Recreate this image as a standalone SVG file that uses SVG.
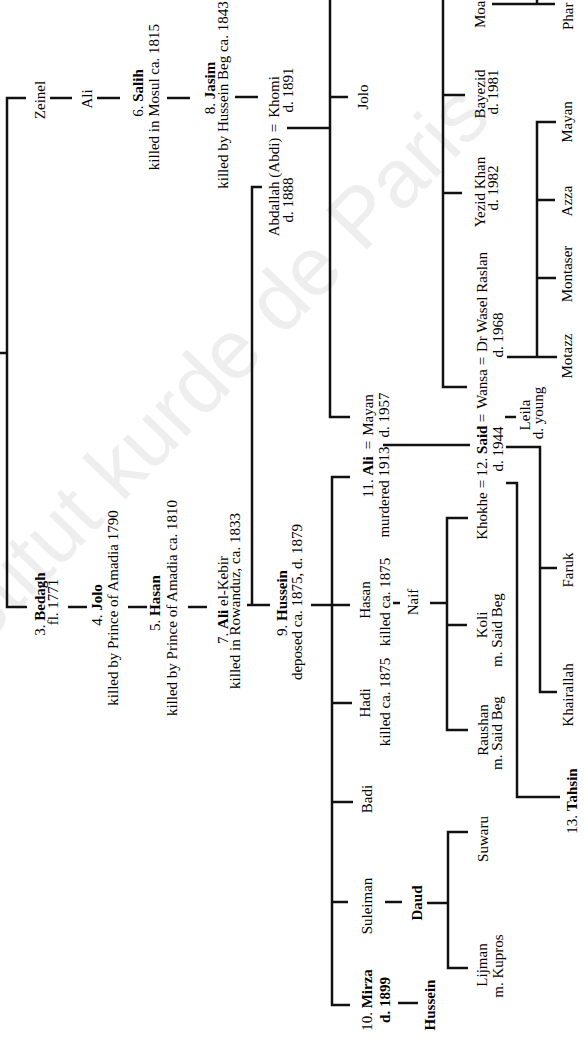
<svg xmlns="http://www.w3.org/2000/svg" width="585" height="1044" viewBox="0 0 585 1044">
<style>
text { font-family: "Liberation Serif", "Times New Roman", serif; font-size: 15px; fill: #000; text-anchor: middle; }
.b { font-weight: bold; }
.st { text-anchor: start; }
.wm { font-family: "Liberation Sans", Arial, sans-serif; font-size: 83px; fill: #eeeeee; text-anchor: start; }
#connectors line, #connectors path { stroke: #111; stroke-width: 2.5; fill: none; }
</style>
<rect width="585" height="1044" fill="#ffffff"/>
<text class="wm" transform="translate(-64,696) rotate(-46)">Institut kurde de Paris</text>

<g id="connectors">
  <path d="M0,353 H7 M26,98 H7 V607 H27"/>
  <line x1="50" y1="98" x2="72" y2="98"/>
  <line x1="97" y1="98" x2="120" y2="98"/>
  <line x1="167" y1="98" x2="190" y2="98"/>
  <line x1="235" y1="97" x2="258" y2="97"/>
  <line x1="68" y1="607" x2="87" y2="607"/>
  <line x1="128" y1="607" x2="147" y2="607"/>
  <line x1="188" y1="607" x2="207" y2="607"/>
  <path d="M247,605 H270 M262,187 H252 V605"/>
  <path d="M287,128 H330 M330,0 V417 H350 M330,97 H348"/>
  <path d="M311,605 H350 M350,477 H332 V1005 H350 M332,703 H352 M332,802 H353 M332,902 H348"/>
  <line x1="383" y1="445" x2="470" y2="445"/>
  <line x1="393" y1="603" x2="400" y2="603"/>
  <path d="M430,603 H447 M468,518 H447 V730 H468 M447,625 H467"/>
  <path d="M506,447 H540 V692 H557 M540,568 H557"/>
  <path d="M506,483 H517 V797 H560"/>
  <line x1="505" y1="417" x2="516" y2="417"/>
  <path d="M443,0 V387 H467 M443,95 H465 M443,193 H462"/>
  <path d="M507,357 H557 M537,357 V122 H556 M537,200 H555 M537,278 H556"/>
  <path d="M492,4 H555 M537,0 V4"/>
  <line x1="398" y1="1003" x2="418" y2="1003"/>
  <line x1="385" y1="902" x2="402" y2="902"/>
  <path d="M427,903 H448 M468,832 H448 V968 H468"/>
</g>

<g id="n-zeinel"><text transform="translate(45,100) rotate(-90)">Zeinel</text></g>
<g id="n-ali1"><text transform="translate(92,99) rotate(-90)">Ali</text></g>
<g id="n-salih">
  <text transform="translate(143,93) rotate(-90)">6. <tspan class="b">Salih</tspan></text>
  <text transform="translate(159,97) rotate(-90)">killed in Mosul ca. 1815</text>
</g>
<g id="n-jasim">
  <text transform="translate(215,88) rotate(-90)">8. <tspan class="b">Jasim</tspan></text>
  <text transform="translate(228,95) rotate(-90)">killed by Hussein Beg ca. 1843</text>
</g>
<g id="n-abdallah">
  <text transform="translate(279,187) rotate(-90)">Abdallah (Abdi)</text>
  <text transform="translate(293,200) rotate(-90)">d. 1888</text>
  <text transform="translate(279,128) rotate(-90)">=</text>
</g>
<g id="n-khomi">
  <text transform="translate(279,97) rotate(-90)">Khomi</text>
  <text transform="translate(293,90) rotate(-90)">d. 1891</text>
</g>
<g id="n-jolo2"><text transform="translate(368,97) rotate(-90)">Jolo</text></g>

<g id="n-bedagh">
  <text transform="translate(45,604) rotate(-90)">3. <tspan class="b">Bedagh</tspan></text>
  <text transform="translate(58,602) rotate(-90)">fl. 1771</text>
</g>
<g id="n-jolo4">
  <text transform="translate(102,605) rotate(-90)">4. <tspan class="b">Jolo</tspan></text>
  <text transform="translate(118,608) rotate(-90)">killed by Prince of Amadia 1790</text>
</g>
<g id="n-hasan5">
  <text transform="translate(160,603) rotate(-90)">5. <tspan class="b">Hasan</tspan></text>
  <text transform="translate(177,608) rotate(-90)">killed by Prince of Amadia ca. 1810</text>
</g>
<g id="n-alikebir">
  <text transform="translate(228,600) rotate(-90)">7. <tspan class="b">Ali</tspan> el-Kebir</text>
  <text transform="translate(240,601) rotate(-90)">killed in Rowanduz, ca. 1833</text>
</g>
<g id="n-hussein9">
  <text transform="translate(287,603) rotate(-90)">9. <tspan class="b">Hussein</tspan></text>
  <text transform="translate(302,602) rotate(-90)">deposed ca. 1875, d. 1879</text>
</g>

<g id="n-ali11">
  <text transform="translate(373,477) rotate(-90)">11. <tspan class="b">Ali</tspan></text>
  <text transform="translate(389,492) rotate(-90)">murdered 1913</text>
  <text transform="translate(373,445) rotate(-90)">=</text>
</g>
<g id="n-mayan">
  <text transform="translate(373,415) rotate(-90)">Mayan</text>
  <text transform="translate(389,415) rotate(-90)">d. 1957</text>
</g>
<g id="n-hasan">
  <text transform="translate(370,600) rotate(-90)">Hasan</text>
  <text transform="translate(390,602) rotate(-90)">killed ca. 1875</text>
</g>
<g id="n-naif"><text transform="translate(418,602) rotate(-90)">Naif</text></g>
<g id="n-hadi">
  <text transform="translate(370,703) rotate(-90)">Hadi</text>
  <text transform="translate(390,702) rotate(-90)">killed ca. 1875</text>
</g>
<g id="n-badi"><text transform="translate(372,799) rotate(-90)">Badi</text></g>
<g id="n-suleiman"><text transform="translate(372,906) rotate(-90)">Suleiman</text></g>
<g id="n-daud"><text class="b" transform="translate(422,903) rotate(-90)">Daud</text></g>
<g id="n-suwaru"><text transform="translate(488,839) rotate(-90)">Suwaru</text></g>
<g id="n-lijman">
  <text transform="translate(487,965) rotate(-90)">Lijman</text>
  <text transform="translate(503,966) rotate(-90)">m. Kupros</text>
</g>
<g id="n-mirza">
  <text transform="translate(372,1000) rotate(-90)">10. <tspan class="b">Mirza</tspan></text>
  <text class="b" transform="translate(390,1000) rotate(-90)">d. 1899</text>
</g>
<g id="n-hussein"><text class="b" transform="translate(435,1005) rotate(-90)">Hussein</text></g>

<g id="n-khokhe">
  <text transform="translate(487,516) rotate(-90)">Khokhe</text>
  <text transform="translate(487,484) rotate(-90)">=</text>
</g>
<g id="n-said">
  <text transform="translate(487,451) rotate(-90)">12. <tspan class="b">Said</tspan></text>
  <text transform="translate(503,449) rotate(-90)">d. 1944</text>
  <text transform="translate(487,418) rotate(-90)">=</text>
</g>
<g id="n-wansa">
  <text transform="translate(487,389) rotate(-90)">Wansa</text>
  <text transform="translate(487,361) rotate(-90)">=</text>
</g>
<g id="n-wasel">
  <text transform="translate(487,302) rotate(-90)">Dr Wasel Raslan</text>
  <text transform="translate(503,335) rotate(-90)">d. 1968</text>
</g>
<g id="n-koli">
  <text transform="translate(487,625) rotate(-90)">Koli</text>
  <text transform="translate(502,630) rotate(-90)">m. Said Beg</text>
</g>
<g id="n-raushan">
  <text transform="translate(488,730) rotate(-90)">Raushan</text>
  <text transform="translate(502,733) rotate(-90)">m. Said Beg</text>
</g>
<g id="n-leila">
  <text transform="translate(530,415) rotate(-90)">Leila</text>
  <text transform="translate(543,413) rotate(-90)">d. young</text>
</g>
<g id="n-faruk"><text transform="translate(573,570) rotate(-90)">Faruk</text></g>
<g id="n-khairallah"><text transform="translate(573,695) rotate(-90)">Khairallah</text></g>
<g id="n-tahsin"><text transform="translate(577,801) rotate(-90)">13. <tspan class="b">Tahsin</tspan></text></g>
<g id="n-bayezid">
  <text transform="translate(485,94) rotate(-90)">Bayezid</text>
  <text transform="translate(498,92) rotate(-90)">d. 1981</text>
</g>
<g id="n-yezid">
  <text transform="translate(485,192) rotate(-90)">Yezid Khan</text>
  <text transform="translate(498,188) rotate(-90)">d. 1982</text>
</g>
<g id="n-moa"><text class="st" transform="translate(485,28) rotate(-90)">Moa</text></g>
<g id="n-phar"><text class="st" transform="translate(573,30) rotate(-90)">Phar</text></g>
<g id="n-mayan2"><text transform="translate(572,122) rotate(-90)">Mayan</text></g>
<g id="n-azza"><text transform="translate(572,201) rotate(-90)">Azza</text></g>
<g id="n-montaser"><text transform="translate(572,274) rotate(-90)">Montaser</text></g>
<g id="n-motazz"><text transform="translate(572,356) rotate(-90)">Motazz</text></g>
</svg>
